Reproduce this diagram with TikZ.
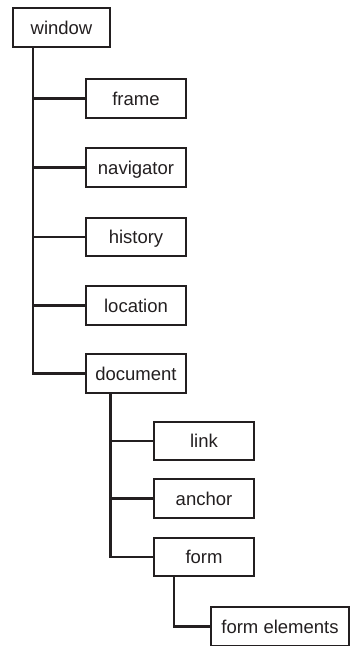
\documentclass[tikz,border=0pt]{standalone}
\usepackage{fontspec}
\setmainfont{Liberation Sans}
\usetikzlibrary{calc}
\definecolor{inkcol}{RGB}{35,31,32}

\begin{document}
\begin{tikzpicture}[x=1pt,y=1pt,
  objbox/.style={draw=inkcol,line width=2.4pt,fill=white,minimum width=99.5pt,
    minimum height=38.5pt,inner sep=0pt,text height=15pt,text depth=2pt,
    font=\fontsize{18.5}{20}\selectfont,text=inkcol},
  branch/.style={draw=inkcol,line width=2.4pt}]
  \useasboundingbox (0,0) rectangle (352,-646);

  \node[objbox,minimum width=96.5pt] (window) at (61.5,-27.5) {window};
  \node[objbox] (frame)     at (136,-98.5)  {frame};
  \node[objbox] (navigator) at (136,-167.5) {navigator};
  \node[objbox] (history)   at (136,-237)   {history};
  \node[objbox] (location)  at (136,-305.5) {location};
  \node[objbox] (document)  at (136,-373.5) {document};
  \node[objbox] (link)      at (204,-441)   {link};
  \node[objbox] (anchor)    at (204,-498.5) {anchor};
  \node[objbox] (form)      at (204,-557)   {form};
  \node[objbox,minimum width=138pt] (elements) at (280,-626.5) {form elements};

  \draw[branch] ([xshift=21pt]window.south west) |- (document.west);
  \foreach \obj in {frame,navigator,history,location}
    \draw[branch] ([xshift=21pt]window.south west |- \obj.west) -- (\obj.west);

  \draw[branch] ([xshift=25.5pt]document.south west) |- (form.west);
  \foreach \obj in {link,anchor}
    \draw[branch] ([xshift=25.5pt]document.south west |- \obj.west) -- (\obj.west);

  \draw[branch] ([xshift=21pt]form.south west) |- (elements.west);
\end{tikzpicture}
\end{document}
